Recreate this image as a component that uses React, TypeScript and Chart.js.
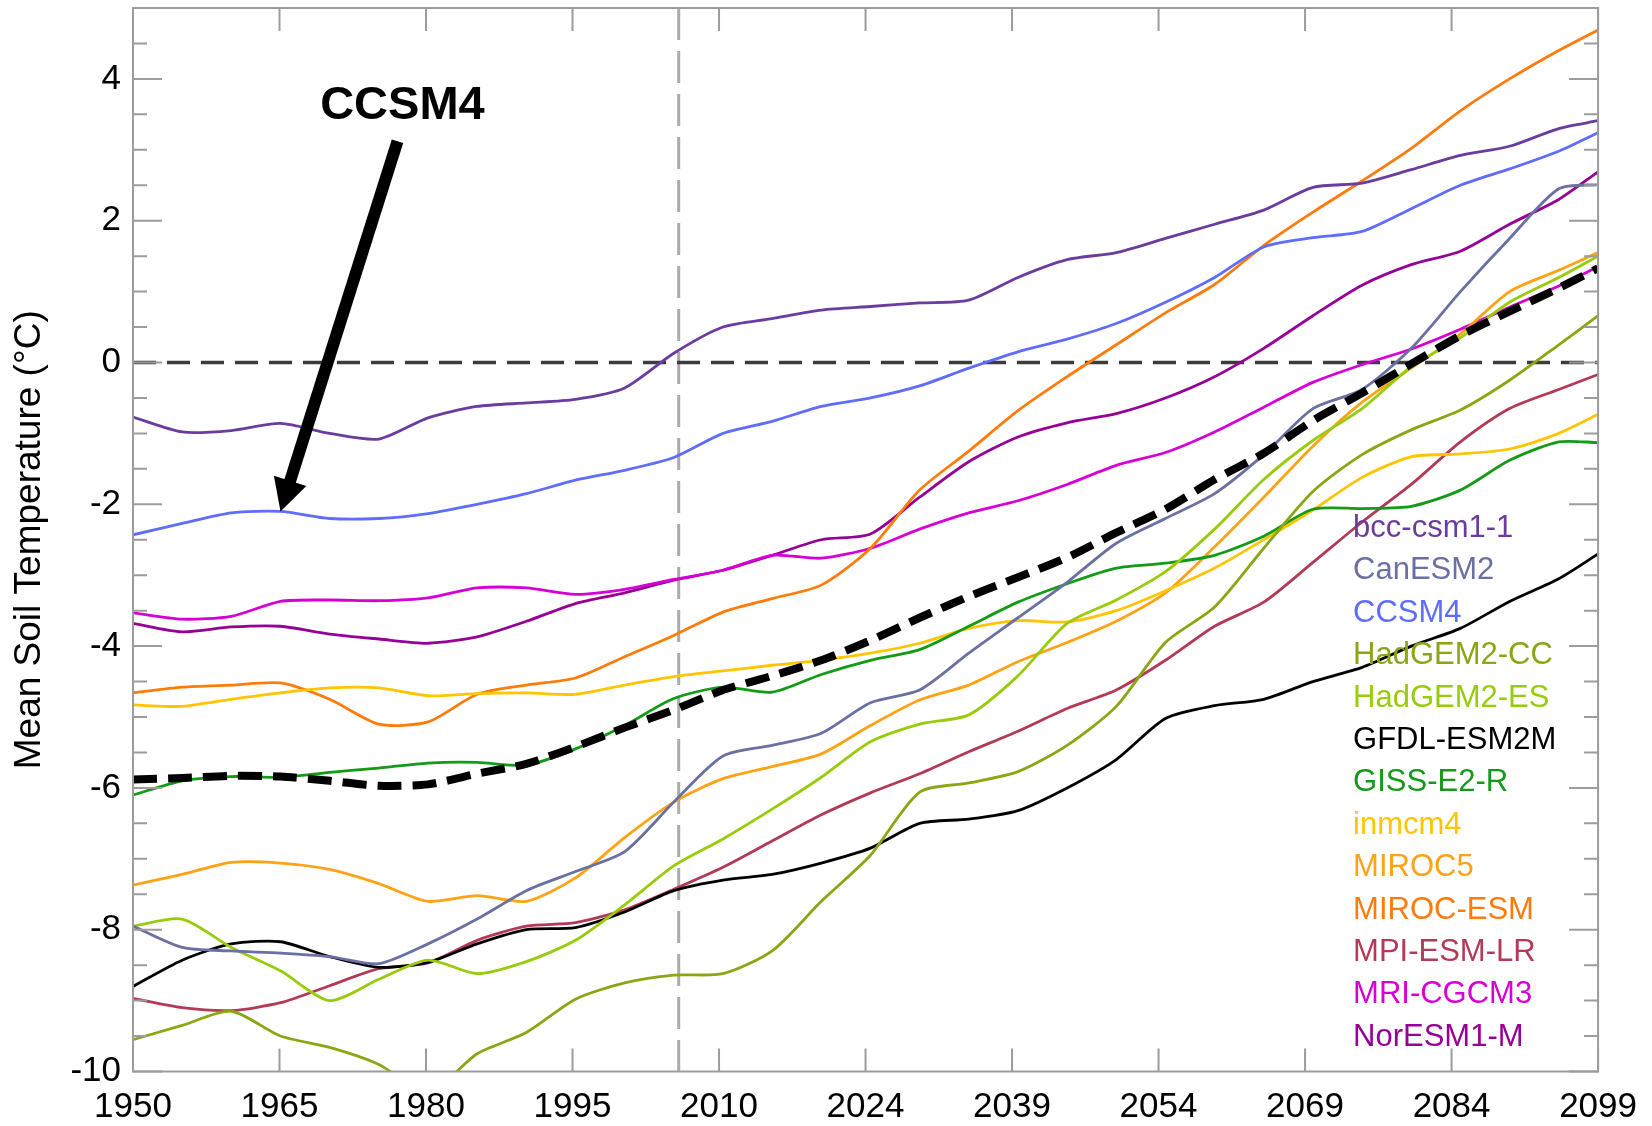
import React, { useEffect, useRef } from 'react';
import { Chart, registerables } from 'chart.js';

Chart.register(...registerables);

// ---------------- data ----------------
const years = [1950, 1955, 1960, 1965, 1970, 1975, 1980, 1985, 1990, 1995, 2000, 2005, 2010, 2015, 2020, 2025, 2030, 2035, 2040, 2045, 2050, 2055, 2060, 2065, 2070, 2075, 2080, 2085, 2090, 2095, 2099];

const bccCsm11 = [-0.77, -0.98, -0.96, -0.86, -1.0, -1.08, -0.78, -0.62, -0.57, -0.52, -0.36, 0.13, 0.5, 0.62, 0.74, 0.79, 0.84, 0.88, 1.2, 1.45, 1.55, 1.75, 1.95, 2.15, 2.47, 2.53, 2.72, 2.92, 3.05, 3.3, 3.41];
const canEsm2 = [-7.95, -8.25, -8.3, -8.33, -8.38, -8.48, -8.2, -7.85, -7.45, -7.18, -6.9, -6.2, -5.55, -5.4, -5.23, -4.8, -4.62, -4.1, -3.6, -3.1, -2.55, -2.2, -1.85, -1.3, -0.65, -0.38, 0.2, 1.0, 1.75, 2.45, 2.51];
const ccsm4 = [-2.43, -2.27, -2.12, -2.1, -2.2, -2.2, -2.13, -2.0, -1.85, -1.66, -1.52, -1.34, -1.0, -0.83, -0.62, -0.5, -0.33, -0.08, 0.15, 0.33, 0.55, 0.85, 1.2, 1.63, 1.76, 1.85, 2.17, 2.5, 2.73, 2.98, 3.24];
const hadGem2Cc = [-9.55, -9.35, -9.15, -9.5, -9.66, -9.9, -10.3, -9.75, -9.45, -8.98, -8.75, -8.64, -8.62, -8.3, -7.6, -6.95, -6.06, -5.93, -5.77, -5.4, -4.85, -3.95, -3.45, -2.62, -1.82, -1.3, -0.95, -0.67, -0.25, 0.25, 0.66];
const hadGem2Es = [-7.95, -7.85, -8.25, -8.58, -9.0, -8.7, -8.43, -8.62, -8.45, -8.15, -7.65, -7.1, -6.72, -6.3, -5.85, -5.35, -5.1, -4.97, -4.42, -3.68, -3.35, -2.95, -2.35, -1.65, -1.1, -0.65, -0.06, 0.35, 0.85, 1.2, 1.5];
const gfdlEsm2m = [-8.8, -8.43, -8.2, -8.17, -8.38, -8.53, -8.46, -8.2, -8.0, -7.97, -7.75, -7.45, -7.3, -7.22, -7.06, -6.85, -6.5, -6.44, -6.32, -6.0, -5.6, -5.02, -4.84, -4.75, -4.5, -4.3, -4.0, -3.75, -3.37, -3.05, -2.7];
const gissE2R = [-6.1, -5.9, -5.84, -5.85, -5.78, -5.72, -5.65, -5.64, -5.68, -5.45, -5.12, -4.74, -4.58, -4.65, -4.4, -4.2, -4.05, -3.72, -3.38, -3.12, -2.9, -2.83, -2.72, -2.45, -2.07, -2.06, -2.03, -1.8, -1.38, -1.12, -1.13];
const inmcm4 = [-4.83, -4.85, -4.75, -4.66, -4.59, -4.59, -4.7, -4.67, -4.66, -4.68, -4.55, -4.43, -4.35, -4.27, -4.2, -4.1, -3.96, -3.75, -3.64, -3.66, -3.5, -3.22, -2.9, -2.5, -2.08, -1.62, -1.33, -1.29, -1.22, -1.0, -0.73];
const miroc5 = [-7.37, -7.22, -7.05, -7.06, -7.15, -7.35, -7.6, -7.52, -7.6, -7.27, -6.7, -6.2, -5.87, -5.7, -5.52, -5.12, -4.76, -4.55, -4.22, -3.95, -3.65, -3.25, -2.6, -1.9, -1.18, -0.56, -0.08, 0.4, 1.0, 1.3, 1.55];
const mirocEsm = [-4.66, -4.58, -4.55, -4.52, -4.75, -5.1, -5.07, -4.68, -4.55, -4.45, -4.15, -3.85, -3.52, -3.33, -3.14, -2.62, -1.8, -1.25, -0.68, -0.2, 0.25, 0.7, 1.1, 1.65, 2.12, 2.56, 3.02, 3.55, 4.0, 4.4, 4.69];
const mpiEsmLr = [-8.97, -9.1, -9.14, -9.03, -8.79, -8.55, -8.47, -8.15, -7.95, -7.9, -7.72, -7.43, -7.12, -6.75, -6.38, -6.07, -5.8, -5.49, -5.2, -4.88, -4.62, -4.2, -3.72, -3.38, -2.82, -2.25, -1.72, -1.12, -0.65, -0.38, -0.17];
const mriCgcm3 = [-3.53, -3.62, -3.58, -3.37, -3.35, -3.36, -3.32, -3.18, -3.18, -3.27, -3.2, -3.06, -2.93, -2.72, -2.76, -2.62, -2.35, -2.12, -1.95, -1.72, -1.45, -1.27, -0.98, -0.63, -0.28, -0.03, 0.19, 0.47, 0.78, 1.08, 1.35];
const norEsm1M = [-3.68, -3.8, -3.73, -3.72, -3.83, -3.9, -3.96, -3.87, -3.65, -3.4, -3.25, -3.07, -2.93, -2.72, -2.5, -2.42, -1.9, -1.4, -1.05, -0.85, -0.72, -0.5, -0.2, 0.2, 0.66, 1.09, 1.38, 1.57, 1.95, 2.3, 2.69];
const ensembleMean = [-5.88, -5.86, -5.83, -5.84, -5.9, -5.97, -5.95, -5.8, -5.66, -5.42, -5.15, -4.9, -4.62, -4.42, -4.2, -3.92, -3.6, -3.3, -3.03, -2.75, -2.4, -2.07, -1.65, -1.28, -0.82, -0.43, -0.02, 0.38, 0.72, 1.05, 1.33];

const seriesNames = ['bcc-csm1-1', 'CanESM2', 'CCSM4', 'HadGEM2-CC', 'HadGEM2-ES', 'GFDL-ESM2M', 'GISS-E2-R', 'inmcm4', 'MIROC5', 'MIROC-ESM', 'MPI-ESM-LR', 'MRI-CGCM3', 'NorESM1-M'];
const seriesValues = [bccCsm11, canEsm2, ccsm4, hadGem2Cc, hadGem2Es, gfdlEsm2m, gissE2R, inmcm4, miroc5, mirocEsm, mpiEsmLr, mriCgcm3, norEsm1M];

const xTickValues = [1950, 1964.9, 1979.8, 1994.7, 2009.6, 2024.5, 2039.4, 2054.3, 2069.2, 2084.1, 2099];
const xTickLabels = ['1950', '1965', '1980', '1995', '2010', '2024', '2039', '2054', '2069', '2084', '2099'];
const yTickValues = [-10, -8, -6, -4, -2, 0, 2, 4];
const yTitle = 'Mean Soil Temperature (\u00B0C)';
const historicalEnd = 2005.5;
const annotationText = 'CCSM4';
const annotationTextPos = { year: 1977.4, value: 3.62 };
const arrowStart = { year: 1976.9, value: 3.12 };
const arrowTipYear = 1965;

// ---------------- styles ----------------
const FONT = '"Liberation Sans", Arial, Helvetica, sans-serif';
const seriesColors = ['#6a3c9e', '#6b70a3', '#5f6dff', '#8ca512', '#98cc0a', '#000000', '#139a17', '#ffc500', '#ffa214', '#ff7c0a', '#b23a56', '#d600d6', '#960096'];

const decorPlugin = {
  id: 'decor',
  beforeDatasetsDraw(chart: any) {
    const { ctx, chartArea: a, scales } = chart;
    const x = scales.x, y = scales.y;
    ctx.save();
    ctx.beginPath();
    ctx.rect(a.left, a.top, a.right - a.left, a.bottom - a.top);
    ctx.clip();
    const vx = x.getPixelForValue(historicalEnd);
    ctx.strokeStyle = '#ababab';
    ctx.lineWidth = 3;
    ctx.setLineDash([32, 11]);
    ctx.beginPath();
    ctx.moveTo(vx, a.top);
    ctx.lineTo(vx, a.bottom);
    ctx.stroke();
    const zy = y.getPixelForValue(0);
    ctx.strokeStyle = '#3c3c3c';
    ctx.lineWidth = 3.5;
    ctx.setLineDash([23, 11]);
    ctx.beginPath();
    ctx.moveTo(a.left, zy);
    ctx.lineTo(a.right, zy);
    ctx.stroke();
    ctx.restore();
  },
  afterDatasetsDraw(chart: any) {
    const { ctx, chartArea: a, scales } = chart;
    const x = scales.x, y = scales.y;
    ctx.save();
    ctx.setLineDash([]);
    ctx.strokeStyle = '#9c9c9c';
    ctx.lineWidth = 2;
    ctx.strokeRect(a.left, a.top, a.right - a.left, a.bottom - a.top);
    ctx.beginPath();
    for (let k = 0; k <= 30; k++) {
      const v = -10 + k * 0.5;
      const py = y.getPixelForValue(v);
      const major = yTickValues.indexOf(v) >= 0;
      const len = major ? 29 : 14;
      ctx.moveTo(a.left, py);
      ctx.lineTo(a.left + len, py);
      ctx.moveTo(a.right, py);
      ctx.lineTo(a.right - len, py);
    }
    for (const v of xTickValues) {
      const px = x.getPixelForValue(v);
      ctx.moveTo(px, a.bottom);
      ctx.lineTo(px, a.bottom - 23);
      ctx.moveTo(px, a.top);
      ctx.lineTo(px, a.top + 23);
    }
    ctx.stroke();

    // legend (coloured names)
    ctx.font = `31px ${FONT}`;
    ctx.textAlign = 'left';
    ctx.textBaseline = 'middle';
    const lx = a.right - 245;
    const ly0 = a.top + 520.5;
    seriesNames.forEach((n, i) => {
      ctx.fillStyle = seriesColors[i];
      ctx.fillText(n, lx, ly0 + i * 42.4);
    });

    // CCSM4 annotation with arrow
    ctx.fillStyle = '#000';
    ctx.font = `bold 47px ${FONT}`;
    ctx.textAlign = 'center';
    ctx.fillText(annotationText, x.getPixelForValue(annotationTextPos.year), y.getPixelForValue(annotationTextPos.value));

    const tipIdx = years.indexOf(arrowTipYear);
    const tx = x.getPixelForValue(arrowTipYear);
    const ty = y.getPixelForValue(ccsm4[tipIdx]);
    const sx = x.getPixelForValue(arrowStart.year);
    const sy = y.getPixelForValue(arrowStart.value);
    const dx = tx - sx, dy = ty - sy;
    const L = Math.hypot(dx, dy);
    const ux = dx / L, uy = dy / L;
    const px = -uy, py = ux;
    const headLen = 32, headHalf = 17;
    const bx = tx - ux * headLen, by = ty - uy * headLen;
    ctx.strokeStyle = '#000';
    ctx.lineWidth = 12;
    ctx.lineCap = 'butt';
    ctx.beginPath();
    ctx.moveTo(sx, sy);
    ctx.lineTo(bx + ux * 4, by + uy * 4);
    ctx.stroke();
    ctx.beginPath();
    ctx.moveTo(tx, ty);
    ctx.lineTo(bx + px * headHalf, by + py * headHalf);
    ctx.lineTo(bx - px * headHalf, by - py * headHalf);
    ctx.closePath();
    ctx.fill();
    ctx.restore();
  },
};

export default function App() {
  const canvasRef = useRef<HTMLCanvasElement | null>(null);

  useEffect(() => {
    const canvas = canvasRef.current;
    if (!canvas) return;

    const datasets: any[] = seriesNames.map((name, i) => ({
      label: name,
      data: years.map((yr, j) => ({ x: yr, y: seriesValues[i][j] })),
      borderColor: seriesColors[i],
      backgroundColor: seriesColors[i],
      borderWidth: 2.8,
      pointRadius: 0,
      fill: false,
      tension: 0.25,
      order: 1,
    }));
    datasets.push({
      label: 'Multi-model mean',
      data: years.map((yr, j) => ({ x: yr, y: ensembleMean[j] })),
      borderColor: '#000000',
      backgroundColor: '#000000',
      borderWidth: 8,
      borderDash: [24, 11],
      pointRadius: 0,
      fill: false,
      tension: 0.25,
      order: 0,
    });

    const chart = new Chart(canvas, {
      type: 'line',
      data: { datasets },
      plugins: [decorPlugin],
      options: {
        responsive: false,
        animation: false,
        devicePixelRatio: 1,
        layout: { padding: { left: 0, right: 51, top: 8, bottom: 0 } },
        plugins: { legend: { display: false }, tooltip: { enabled: false } },
        elements: { line: { borderJoinStyle: 'round' }, point: { radius: 0 } },
        scales: {
          x: {
            type: 'linear',
            min: 1950,
            max: 2099,
            grid: { display: false, drawTicks: false },
            border: { display: false },
            afterBuildTicks: (s: any) => { s.ticks = xTickValues.map((v) => ({ value: v })); },
            afterFit: (s: any) => { s.height = 54.5; },
            ticks: {
              autoSkip: false,
              maxRotation: 0,
              minRotation: 0,
              padding: 15,
              color: '#000',
              font: { family: FONT, size: 35 },
              callback: (_v: any, i: number) => xTickLabels[i],
            },
          },
          y: {
            type: 'linear',
            min: -10,
            max: 5,
            grid: { display: false, drawTicks: false },
            border: { display: false },
            afterBuildTicks: (s: any) => { s.ticks = yTickValues.map((v) => ({ value: v })); },
            afterFit: (s: any) => { s.width = 133; s.paddingTop = 0; s.paddingBottom = 0; },
            ticks: {
              padding: 12,
              color: '#000',
              font: { family: FONT, size: 35 },
              callback: (v: any) => String(v),
            },
            title: {
              display: true,
              text: yTitle,
              color: '#000',
              font: { family: FONT, size: 37 },
              padding: { top: 8, bottom: 0 },
            },
          },
        },
      } as any,
    });

    return () => chart.destroy();
  }, []);

  return (
    <div style={{ position: 'absolute', left: 0, top: 0, width: 1652, height: 1126, background: '#fff' }}>
      <canvas ref={canvasRef} width={1652} height={1126} style={{ display: 'block' }} />
    </div>
  );
}
